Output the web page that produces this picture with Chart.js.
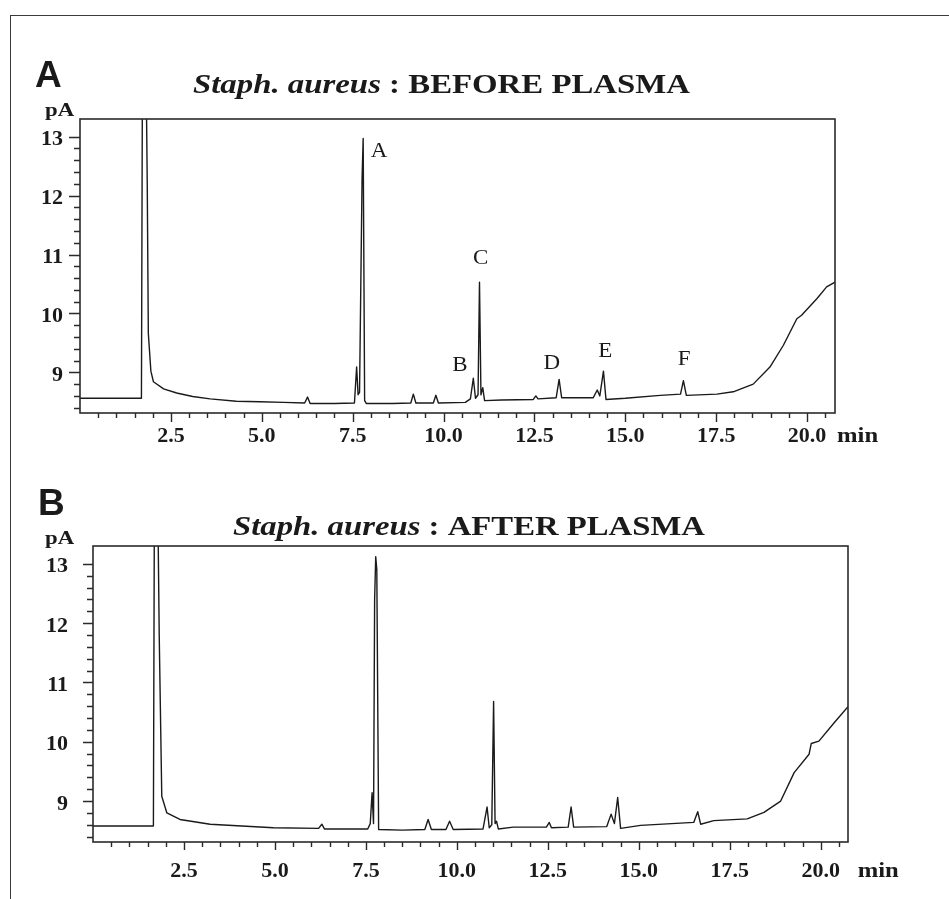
<!DOCTYPE html>
<html>
<head>
<meta charset="utf-8">
<script src="https://cdn.jsdelivr.net/npm/chart.js@4.4.1/dist/chart.umd.min.js"></script>
<style>
  html, body { margin: 0; padding: 0; background: #fff; }
  body { width: 949px; height: 899px; position: relative; overflow: hidden; }
  #frame { position: absolute; left: 10px; top: 15px; width: 1000px; height: 1000px;
           border-top: 1.5px solid #3a3a3a; border-left: 1.5px solid #3a3a3a; }
  .panel { position: absolute; left: 0; width: 949px; }
  #panelA { top: 0; height: 460px; }
  #panelB { top: 460px; height: 439px; }
</style>
</head>
<body>
<div id="frame"></div>
<div class="panel" id="panelA"><canvas id="chartA" width="949" height="460"></canvas></div>
<div class="panel" id="panelB"><canvas id="chartB" width="949" height="439"></canvas></div>
<script>
// GC-FID trace of Staph. aureus volatiles: retention time (min) and signal (pA)
const beforeTime = [0, 1.69, 1.72, 1.81, 1.85, 1.88, 1.95, 2.02, 2.3, 2.66, 3.1, 3.58, 4.3, 4.95, 5.6,
  6.18, 6.26, 6.33, 7.0, 7.55, 7.61, 7.65, 7.69, 7.76, 7.79, 7.83, 7.88, 8.6, 9.1, 9.17, 9.24,
  9.72, 9.79, 9.86, 10.6, 10.74, 10.82, 10.88, 10.95, 10.99, 11.03, 11.08, 11.13, 11.6, 12.47,
  12.54, 12.6, 13.1, 13.18, 13.25, 14.12, 14.23, 14.3, 14.4, 14.47, 15.0, 15.96, 16.52, 16.6,
  16.68, 17.52, 17.97, 18.52, 18.98, 19.35, 19.72, 19.85, 20.27, 20.54, 20.77];
const beforeSignal = [8.56, 8.56, 14.6, 14.6, 12.2, 9.66, 9.02, 8.84, 8.72, 8.65, 8.59, 8.55, 8.51, 8.50, 8.49,
  8.48, 8.58, 8.47, 8.47, 8.48, 9.09, 8.62, 8.66, 12.3, 12.97, 8.52, 8.47, 8.47, 8.48, 8.63, 8.48,
  8.48, 8.61, 8.48, 8.49, 8.55, 8.90, 8.56, 8.62, 10.53, 8.62, 8.74, 8.52, 8.53, 8.54,
  8.60, 8.55, 8.57, 8.88, 8.57, 8.57, 8.70, 8.60, 9.02, 8.54, 8.56, 8.61, 8.63, 8.86,
  8.61, 8.63, 8.67, 8.80, 9.09, 9.46, 9.91, 9.97, 10.25, 10.45, 10.53];

const afterTime = [0, 1.66, 1.69, 1.77, 1.82, 1.89, 2.03, 2.39, 3.22, 4.96, 6.2, 6.29, 6.36, 7.55, 7.62,
  7.67, 7.71, 7.74, 7.77, 7.8, 7.85, 8.5, 9.12, 9.21, 9.3, 9.7, 9.8, 9.9, 10.72, 10.83, 10.89, 10.96,
  11.01, 11.05, 11.09, 11.14, 11.55, 12.46, 12.54, 12.6, 13.06, 13.14, 13.21, 14.12, 14.24, 14.33,
  14.42, 14.5, 15.05, 16.51, 16.62, 16.7, 17.06, 17.98, 18.44, 18.9, 19.27, 19.68, 19.74, 19.95,
  20.37, 20.75];
const afterSignal = [8.58, 8.58, 14.6, 14.6, 11.8, 9.08, 8.80, 8.69, 8.61, 8.55, 8.54, 8.61, 8.53, 8.53, 8.62,
  9.14, 8.62, 12.4, 13.12, 12.9, 8.52, 8.51, 8.52, 8.69, 8.52, 8.52, 8.66, 8.52, 8.53, 8.90, 8.55, 8.60,
  10.68, 8.62, 8.66, 8.53, 8.56, 8.56, 8.64, 8.55, 8.56, 8.90, 8.56, 8.57, 8.78, 8.62,
  9.06, 8.54, 8.59, 8.64, 8.82, 8.61, 8.67, 8.70, 8.81, 9.00, 9.48, 9.79, 9.97, 10.01,
  10.32, 10.59];

// named peaks of the untreated sample
const peakNames = ['A', 'B', 'C', 'D', 'E', 'F'];
const peakLabelTime = [8.23, 10.45, 11.02, 12.98, 14.45, 16.62];
const peakLabelSignal = [12.75, 9.11, 10.93, 9.14, 9.35, 9.22];

// axis ticks
const xTickValues = [2.5, 5, 7.5, 10, 12.5, 15, 17.5, 20];
const xTickLabels = ['2.5', '5.0', '7.5', '10.0', '12.5', '15.0', '17.5', '20.0'];
const yTickValues = [9, 10, 11, 12, 13];
const yTickLabels = ['9', '10', '11', '12', '13'];

const INK = '#1a1a1a';
const SERIF = '"Liberation Serif", "Times New Roman", serif';
const SANS = '"Liberation Sans", Arial, sans-serif';

function lookup(values, labels, v) {
  for (let i = 0; i < values.length; i++) {
    if (Math.abs(values[i] - v) < 1e-6) return labels[i];
  }
  return '';
}

// frame, minor/major tick marks, headings and peak names
const decor = {
  id: 'decor',
  afterDraw(chart, args, o) {
    const { ctx, chartArea: a } = chart;
    const xs = chart.scales.x, ys = chart.scales.y;
    ctx.save();
    ctx.strokeStyle = '#2a2a2a';
    ctx.lineWidth = 1.6;
    ctx.strokeRect(a.left, a.top, a.right - a.left, a.bottom - a.top);

    ctx.lineWidth = 1.4;
    ctx.beginPath();
    for (let k = 1; k <= 41; k++) {
      const v = k * 0.5;
      if (v > xs.max) break;
      const px = Math.round(xs.getPixelForValue(v)) + 0.5;
      const len = (k % 5 === 0) ? o.xMajor : o.xMinor;
      ctx.moveTo(px, a.bottom);
      ctx.lineTo(px, a.bottom + len);
    }
    for (let k = 42; k <= 65; k++) {
      const v = k * 0.2;
      if (v > 13.05) break;
      const py = Math.round(ys.getPixelForValue(v)) + 0.5;
      const len = (k % 5 === 0) ? o.yMajor : o.yMinor;
      ctx.moveTo(a.left, py);
      ctx.lineTo(a.left - len, py);
    }
    ctx.stroke();

    ctx.fillStyle = INK;
    // panel letter
    ctx.font = 'bold 37px ' + SANS;
    ctx.textAlign = 'left';
    ctx.textBaseline = 'alphabetic';
    ctx.fillText(o.letter, o.letterX, o.letterY);

    // unit of the signal axis
    ctx.save();
    ctx.translate(o.unitX, o.unitY);
    ctx.scale(1.2, 1);
    ctx.font = 'bold 19px ' + SERIF;
    ctx.fillText('pA', 0, 0);
    ctx.restore();

    // unit of the time axis
    ctx.save();
    ctx.translate(xs.getPixelForValue(20) + o.minGap, a.bottom + o.labelDrop);
    ctx.scale(1.12, 1);
    ctx.font = 'bold 22px ' + SERIF;
    ctx.textBaseline = 'middle';
    ctx.fillText('min', 0, 0);
    ctx.restore();

    // heading: species in italics, condition upright
    const f1 = 'italic bold 27px ' + SERIF, f2 = 'bold 27px ' + SERIF;
    ctx.font = f1; const w1 = ctx.measureText(o.species).width;
    ctx.font = f2; const w2 = ctx.measureText(o.condition).width;
    const sx = o.titleW / (w1 + w2);
    ctx.save();
    ctx.translate(o.titleX, o.titleY);
    ctx.scale(sx, 1);
    ctx.font = f1; ctx.fillText(o.species, 0, 0);
    ctx.font = f2; ctx.fillText(o.condition, w1, 0);
    ctx.restore();

    // peak names
    if (o.peaks) {
      ctx.font = '20px ' + SERIF;
      ctx.textAlign = 'center';
      ctx.textBaseline = 'middle';
      peakNames.forEach((n, i) => {
        const px = xs.getPixelForValue(peakLabelTime[i]);
        const py = ys.getPixelForValue(peakLabelSignal[i]);
        ctx.save();
        ctx.translate(px, py);
        ctx.scale(1.15, 1);
        ctx.fillText(n, 0, 0);
        ctx.restore();
      });
    }
    ctx.restore();
  }
};

function makeChart(id, time, signal, p) {
  const canvas = document.getElementById(id);
  const points = time.map((t, i) => ({ x: t, y: signal[i] }));
  return new Chart(canvas, {
    type: 'line',
    data: { datasets: [{
      data: points,
      borderColor: INK,
      borderWidth: 1.4,
      pointRadius: 0,
      tension: 0,
      borderJoinStyle: 'round',
      fill: false
    }] },
    options: {
      responsive: false,
      animation: false,
      events: [],
      layout: { padding: { left: 0, top: p.top, right: 949 - p.right, bottom: 0 } },
      plugins: { legend: { display: false }, tooltip: { enabled: false }, decor: p },
      scales: {
        x: {
          type: 'linear', min: 0, max: p.xMax,
          grid: { display: false, drawTicks: false },
          border: { display: false },
          ticks: {
            stepSize: 2.5, includeBounds: false, autoSkip: false, maxRotation: 0,
            padding: p.labelDrop - 13.2, color: INK,
            font: { family: SERIF, size: 22, weight: 'bold' },
            callback: (v) => lookup(xTickValues, xTickLabels, v)
          },
          afterFit: (s) => { s.height = p.canvasH - p.bottom; }
        },
        y: {
          type: 'linear', min: 8.31, max: 13.3,
          grid: { display: false, drawTicks: false },
          border: { display: false },
          ticks: {
            stepSize: 1, includeBounds: false, autoSkip: false,
            padding: p.yPad, labelOffset: 3, color: INK,
            font: { family: SERIF, size: 22, weight: 'bold' },
            callback: (v) => lookup(yTickValues, yTickLabels, v)
          },
          afterFit: (s) => { s.width = p.left; }
        }
      }
    },
    plugins: [decor]
  });
}

makeChart('chartA', beforeTime, beforeSignal, {
  left: 80, top: 119, right: 835, bottom: 413, canvasH: 460, xMax: 20.77,
  yPad: 17, labelDrop: 23.7, minGap: 30,
  xMajor: 9, xMinor: 5, yMajor: 11, yMinor: 6,
  letter: 'A', letterX: 35, letterY: 87, unitX: 45, unitY: 116,
  species: 'Staph. aureus', condition: ' : BEFORE PLASMA', titleX: 193, titleY: 93, titleW: 497,
  peaks: true
});

makeChart('chartB', afterTime, afterSignal, {
  left: 93, top: 86, right: 848, bottom: 382, canvasH: 439, xMax: 20.75,
  yPad: 25, labelDrop: 29.7, minGap: 37,
  xMajor: 8, xMinor: 5, yMajor: 10, yMinor: 6,
  letter: 'B', letterX: 38, letterY: 55, unitX: 45, unitY: 84,
  species: 'Staph. aureus', condition: ' : AFTER PLASMA', titleX: 233, titleY: 75, titleW: 472,
  peaks: false
});
</script>
</body>
</html>
